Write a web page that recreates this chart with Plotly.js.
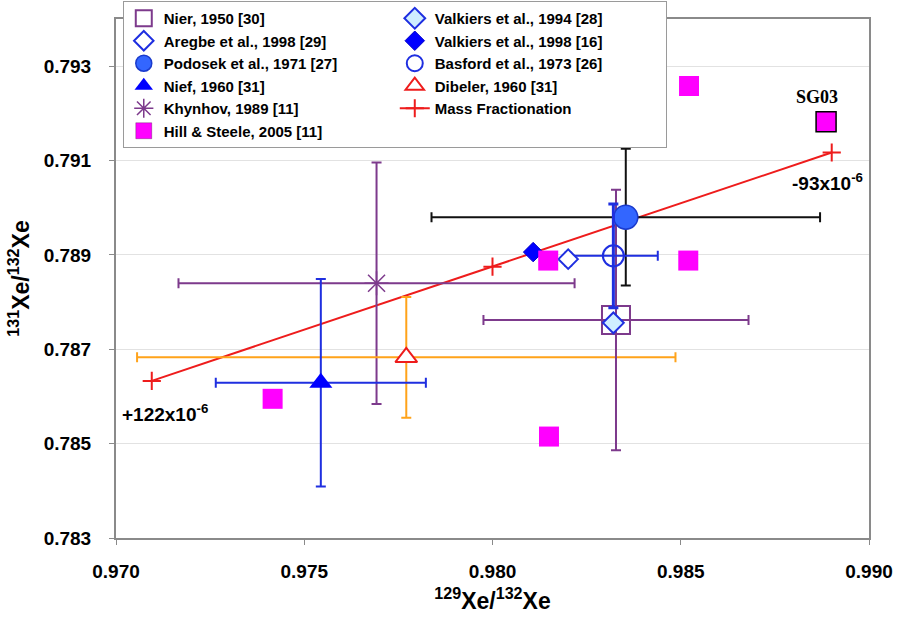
<!DOCTYPE html>
<html>
<head>
<meta charset="utf-8">
<script src="https://cdn.plot.ly/plotly-3.0.1.min.js"></script>
<style>html,body{margin:0;padding:0;background:#fff;}#chart{width:899px;height:626px;}</style>
</head>
<body>
<div id="chart"></div>
<script>
// ---- Data ----
const xTickVals = [0.970, 0.975, 0.980, 0.985, 0.990];
const yTickVals = [0.783, 0.785, 0.787, 0.789, 0.791, 0.793];

const nierX = [0.98328], nierY = [0.78762], nierXErr = [0.00352], nierYErr = [0.00276];
const valk94X = [0.98321], valk94Y = [0.78756];
const aregbeX = [0.98201], aregbeY = [0.78891], aregbeYErr = [0.00014];
const valk98X = [0.98108], valk98Y = [0.78906];
const podosekX = [0.98354], podosekY = [0.78980], podosekXErr = [0.00516], podosekYErr = [0.00145];
const basfordX = [0.98321], basfordY = [0.78898], basfordXErr = [0.00118], basfordYErr = [0.00110];
const niefX = [0.97544], niefY = [0.78629], niefXErr = [0.00279], niefYErr = [0.00220];
const dibelerX = [0.97771], dibelerY = [0.78683], dibelerXErr = [0.00715], dibelerYErr = [0.00128];
const khynhovX = [0.97692], khynhovY = [0.78840], khynhovXErr = [0.00526], khynhovYErr = [0.00256];
const hillX = [0.97416, 0.98148, 0.98150, 0.98520, 0.98522, 0.98886];
const hillY = [0.78595, 0.78888, 0.78515, 0.78888, 0.79258, 0.79182];
const hillBorder = [0, 0, 0, 0, 0, 1.5];
const massX = [0.97095, 0.98000, 0.98901];
const massY = [0.78633, 0.78875, 0.79117];

const labelLow = {x: 0.9701, y: 0.78565, text: '+122x10<sup>-6</sup>'};
const labelHigh = {x: 0.98989, y: 0.79055, text: '-93x10<sup>-6</sup>'};
const labelSG = {x: 0.98862, y: 0.79235, text: 'SG03'};

// ---- Styles ----
const PURPLE = '#7d3a8c', BLUE = '#1f2fe0', ORANGE = '#ffa31a', RED = '#ee1c1c';
function eb(arr, color, thick, w) {
  return {type: 'data', array: arr, visible: true, color: color, thickness: thick, width: w};
}

const traces = [
  {name: 'Mass Fractionation', x: massX, y: massY, mode: 'lines+markers', legendrank: 10,
   line: {color: RED, width: 2},
   marker: {symbol: 'cross-thin-open', size: 13, color: RED, line: {color: RED, width: 2}}},
  {name: 'Khynhov, 1989 [11]', x: khynhovX, y: khynhovY, mode: 'markers', legendrank: 9,
   error_x: eb(khynhovXErr, PURPLE, 2, 5), error_y: eb(khynhovYErr, PURPLE, 2, 5),
   marker: {symbol: 'asterisk-open', size: 20, color: PURPLE, line: {color: PURPLE, width: 1.5}}},
  {name: 'Dibeler, 1960 [31]', x: dibelerX, y: dibelerY, mode: 'markers', legendrank: 8,
   error_x: eb(dibelerXErr, ORANGE, 2, 5), error_y: eb(dibelerYErr, ORANGE, 2, 5),
   marker: {symbol: 'triangle-up', size: 19, color: '#ffffff', line: {color: RED, width: 2}}},
  {name: 'Nief, 1960 [31]', x: niefX, y: niefY, mode: 'markers', legendrank: 7,
   error_x: eb(niefXErr, BLUE, 2, 5), error_y: eb(niefYErr, BLUE, 2, 5),
   marker: {symbol: 'triangle-up', size: 20, color: '#0000ff', line: {color: '#0000ff', width: 0}}},
  {name: 'Nier, 1950 [30]', x: nierX, y: nierY, mode: 'markers', legendrank: 1,
   error_x: eb(nierXErr, PURPLE, 2, 5), error_y: eb(nierYErr, PURPLE, 2, 5),
   marker: {symbol: 'square-open', size: 28, color: PURPLE, line: {color: PURPLE, width: 2}}},
  {name: 'Podosek et al., 1971 [27]', x: podosekX, y: podosekY, mode: 'markers', legendrank: 5,
   error_x: eb(podosekXErr, '#111111', 2, 5), error_y: eb(podosekYErr, '#111111', 2, 5),
   marker: {symbol: 'circle', size: 24, color: '#3366ff', line: {color: '#1a3acc', width: 1.5}}},
  {name: 'Basford et al., 1973 [26]', x: basfordX, y: basfordY, mode: 'markers', legendrank: 6,
   error_x: eb(basfordXErr, BLUE, 2, 5), error_y: eb(basfordYErr, BLUE, 3, 5),
   marker: {symbol: 'circle-open', size: 21, color: BLUE, line: {color: BLUE, width: 2}}},
  {name: 'Valkiers et al., 1994 [28]', x: valk94X, y: valk94Y, mode: 'markers', legendrank: 2,
   marker: {symbol: 'diamond', size: 16, color: '#cfeeff', line: {color: BLUE, width: 2}}},
  {name: 'Aregbe et al., 1998 [29]', x: aregbeX, y: aregbeY, mode: 'markers', legendrank: 3,
   error_y: eb(aregbeYErr, BLUE, 1.5, 4),
   marker: {symbol: 'diamond', size: 15, color: '#ffffff', line: {color: BLUE, width: 2}}},
  {name: 'Valkiers et al., 1998 [16]', x: valk98X, y: valk98Y, mode: 'markers', legendrank: 4,
   marker: {symbol: 'diamond', size: 15, color: '#0000ff', line: {color: '#0000cc', width: 1}}},
  {name: 'Hill &amp; Steele, 2005 [11]', x: hillX, y: hillY, mode: 'markers', legendrank: 11,
   marker: {symbol: 'square', size: 20, color: '#ff00ff', line: {color: '#000000', width: hillBorder}}}
];

const boldFont = {family: 'Liberation Sans, Arial, sans-serif', weight: 'bold', color: '#000'};

const layout = {
  width: 899, height: 626,
  margin: {l: 116, r: 30, t: 19, b: 88, pad: 0, autoexpand: false},
  paper_bgcolor: '#ffffff', plot_bgcolor: '#ffffff',
  showlegend: true,
  legend: {
    orientation: 'h', x: 0.009, xanchor: 'left', y: 1.0347, yanchor: 'top',
    entrywidth: 226, entrywidthmode: 'pixels',
    bgcolor: '#ffffff', bordercolor: '#9a9a9a', borderwidth: 1,
    font: Object.assign({size: 15}, boldFont)
  },
  xaxis: {
    range: [0.970, 0.990], tickvals: xTickVals, tickformat: '.3f',
    showgrid: false, zeroline: false,
    showline: true, mirror: true, linecolor: '#8a8a8a', linewidth: 2,
    ticks: 'outside', ticklen: 5, tickcolor: '#8a8a8a', ticklabelstandoff: 10,
    tickfont: Object.assign({size: 19}, boldFont),
    title: {text: '<sup>129</sup>Xe/<sup>132</sup>Xe', font: Object.assign({size: 23}, boldFont), standoff: 12}
  },
  yaxis: {
    range: [0.783, 0.794], tickvals: yTickVals, tickformat: '.3f',
    showgrid: true, gridcolor: '#e2e2e2', gridwidth: 1, zeroline: false,
    showline: true, mirror: true, linecolor: '#8a8a8a', linewidth: 2,
    ticks: 'outside', ticklen: 5, tickcolor: '#8a8a8a', ticklabelstandoff: 14,
    tickfont: Object.assign({size: 19}, boldFont),
    title: {text: '<sup>131</sup>Xe/<sup>132</sup>Xe', font: Object.assign({size: 23}, boldFont), standoff: 8}
  },
  annotations: [
    {x: labelLow.x, y: labelLow.y, xref: 'x', yref: 'y', text: labelLow.text, showarrow: false,
     xanchor: 'left', yanchor: 'middle', font: Object.assign({size: 19}, boldFont)},
    {x: labelHigh.x, y: labelHigh.y, xref: 'x', yref: 'y', text: labelHigh.text, showarrow: false,
     xanchor: 'right', yanchor: 'middle', font: Object.assign({size: 19}, boldFont)},
    {x: labelSG.x, y: labelSG.y, xref: 'x', yref: 'y', text: labelSG.text, showarrow: false,
     xanchor: 'center', yanchor: 'middle',
     font: {family: 'Liberation Serif, Times New Roman, serif', weight: 'bold', size: 18, color: '#000'}}
  ]
};

Plotly.newPlot('chart', traces, layout, {displayModeBar: false, staticPlot: true});
</script>
</body>
</html>
